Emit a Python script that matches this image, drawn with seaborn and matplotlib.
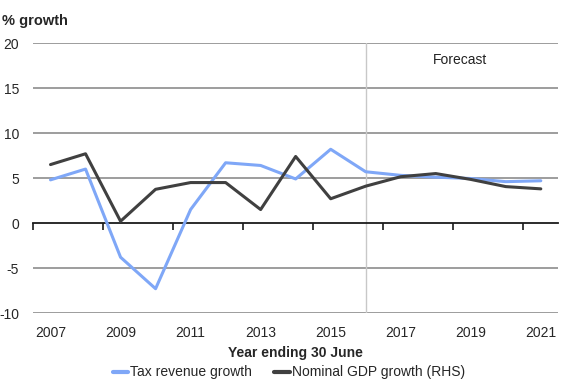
import numpy as np
import pandas as pd
import matplotlib
matplotlib.use('Agg')
import matplotlib.pyplot as plt
import seaborn as sns

# Data
years = list(range(2007, 2022))
tax_growth = [4.8, 6.0, -3.8, -7.3, 1.5, 6.7, 6.4, 4.9, 8.2, 5.7, 5.3, 5.1, 4.95, 4.6, 4.7]
gdp_growth = [6.5, 7.7, 0.2, 3.75, 4.5, 4.5, 1.5, 7.4, 2.7, 4.1, 5.15, 5.5, 4.85, 4.05, 3.8]
series_names = ['Tax revenue growth', 'Nominal GDP growth (RHS)']
y_ticks = [-10, -5, 0, 5, 10, 15, 20]
x_labels = [2007, 2009, 2011, 2013, 2015, 2017, 2019, 2021]
forecast_start = 2016

df = pd.DataFrame({'Year': years * 2,
                   'Growth': tax_growth + gdp_growth,
                   'Series': [series_names[0]] * len(years) + [series_names[1]] * len(years)})

sns.set_style('white')
plt.rcParams['font.family'] = ['Liberation Sans', 'DejaVu Sans']
plt.rcParams['font.size'] = 10
plt.rcParams['axes.unicode_minus'] = False

fig = plt.figure(figsize=(5.76, 3.85), dpi=100)
ax = fig.add_axes([0.0573, 0.187, 0.912, 0.701])

# gridlines
for v in y_ticks:
    if v != 0:
        ax.axhline(v, color='#8c8c8c', lw=1.2, zorder=0)
ax.axvline(forecast_start, color='#c8c8c8', lw=1, zorder=0)

sns.lineplot(data=df, x='Year', y='Growth', hue='Series',
             palette=['#7fa7f7', '#404040'], linewidth=2.2, ax=ax, zorder=3)

ax.set_xlim(years[0] - 0.5, years[-1] + 0.5)
ax.set_ylim(-10, 20)
ax.set_yticks(y_ticks)
ax.tick_params(axis='y', length=0, pad=10, labelsize=10)

# zero axis line with tick marks between categories
for s in ['left', 'right', 'top']:
    ax.spines[s].set_visible(False)
ax.spines['bottom'].set_position(('data', 0))
ax.spines['bottom'].set_color('#1a1a1a')
ax.spines['bottom'].set_linewidth(1.3)
ax.set_xticks(np.arange(years[0] - 0.5, years[-1], 2))
ax.tick_params(axis='x', bottom=True, direction='out', length=5, width=1.2, color='#1a1a1a',
               labelbottom=False)

sec = ax.secondary_xaxis(location=0)
sec.set_xticks(x_labels)
sec.set_xticklabels([str(x) for x in x_labels])
sec.tick_params(length=0, pad=9, labelsize=10)
sec.spines['bottom'].set_visible(False)
sec.set_xlabel('Year ending 30 June', fontweight='bold', fontsize=10, labelpad=5)

ax.set_xlabel('')
ax.set_ylabel('')
ax.text(2018.7, 18.1, 'Forecast', ha='center', va='center', fontsize=10, color='#222222')
fig.text(0.003, 0.945, '% growth', fontweight='bold', fontsize=10.5, ha='left', va='center')

leg = ax.legend(loc='center', bbox_to_anchor=(0.487, -0.22), ncol=2, frameon=False,
                handlelength=1.1, handletextpad=0.15, columnspacing=1.6, fontsize=10,
                borderpad=0)
for line in leg.get_lines():
    line.set_linewidth(3)

fig.savefig('out.png', dpi=100)
